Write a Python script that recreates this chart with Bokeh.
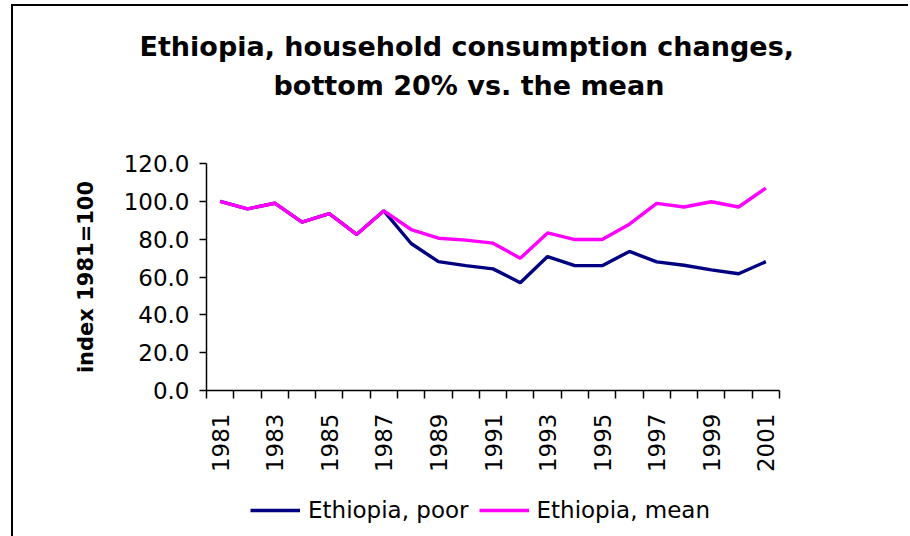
from math import pi
from bokeh.plotting import figure
from bokeh.layouts import column
from bokeh.models import (Title, Legend, LegendItem, FixedTicker, Range1d,
                          ColumnDataSource, NumeralTickFormatter)
from bokeh.embed import file_html
from bokeh.resources import INLINE

# ---- data ----
years = list(range(1981, 2002))
poor = [100.0, 96.0, 99.0, 89.0, 93.5, 82.5, 95.0, 77.7, 68.1, 66.0, 64.3,
        57.0, 70.8, 66.0, 66.0, 73.5, 68.0, 66.2, 63.8, 61.7, 68.1]
mean = [100.0, 96.0, 99.0, 89.0, 93.5, 82.5, 95.0, 85.1, 80.5, 79.5, 77.9,
        69.9, 83.3, 79.8, 79.8, 87.9, 98.9, 97.0, 99.8, 97.0, 107.0]
y_ticks = [0, 20, 40, 60, 80, 100, 120]
title_lines = ["Ethiopia, household consumption changes,",
               "bottom 20% vs. the mean"]
y_label = "index 1981=100"
series_names = ["Ethiopia, poor", "Ethiopia, mean"]
series_cols = ["poor", "mean"]
series_colors = ["#000080", "#FF00FF"]

FONT = "DejaVu Sans"

src = ColumnDataSource(dict(year=years, poor=poor, mean=mean))

p = figure(width=895, height=476, output_backend="svg", toolbar_location=None,
           x_range=Range1d(years[0] - 0.5, years[-1] + 0.5),
           y_range=Range1d(y_ticks[0], y_ticks[-1]),
           min_border_left=193, min_border_right=129,
           min_border_top=157, min_border_bottom=92,
           background_fill_color="white", border_fill_color="white")
p.outline_line_color = None
p.grid.visible = False

for col, color in zip(series_cols, series_colors):
    p.line("year", col, source=src, line_color=color, line_width=3.4)

# x axis: labels every other year, tick marks between categories
xa = p.xaxis[0]
xa.ticker = FixedTicker(ticks=years[::2],
                        minor_ticks=[y - 0.5 for y in years] + [years[-1] + 0.5])
xa.major_label_overrides = {y: str(y) for y in years}
xa.major_tick_out = 0
xa.major_tick_in = 0
xa.minor_tick_out = 8
xa.minor_tick_in = 0
xa.minor_tick_line_color = "black"
xa.minor_tick_line_width = 1.5
xa.major_label_orientation = pi / 2
xa.major_label_standoff = 15
xa.major_label_text_font = FONT
xa.major_label_text_font_size = "23px"
xa.major_label_text_color = "black"
xa.axis_line_color = "black"
xa.axis_line_width = 1.5

ya = p.yaxis[0]
ya.ticker = FixedTicker(ticks=y_ticks, minor_ticks=[])
ya.formatter = NumeralTickFormatter(format="0.0")
ya.major_tick_out = 7
ya.major_tick_in = 0
ya.major_tick_line_color = "black"
ya.major_tick_line_width = 1.5
ya.major_label_standoff = 10
ya.major_label_text_font = FONT
ya.major_label_text_font_size = "23px"
ya.major_label_text_color = "black"
ya.axis_line_color = "black"
ya.axis_line_width = 1.5
ya.axis_label = y_label
ya.axis_label_text_font = FONT
ya.axis_label_text_font_size = "21px"
ya.axis_label_text_font_style = "bold"
ya.axis_label_text_color = "black"
ya.axis_label_standoff = 23

# title: spacer nearest the plot, then the two lines (left-aligned with offsets
# so that each line is centred like the original)
has_standoff = "standoff" in Title.properties()

def add_title(text, size, offset, standoff, bold=True):
    kw = dict(text=text, align="left", offset=offset,
              text_font=FONT, text_font_size=size,
              text_font_style="bold" if bold else "normal", text_color="black")
    if has_standoff:
        kw["standoff"] = standoff
    p.add_layout(Title(**kw), "above")

add_title(" ", "44px", 0, 10, bold=False)
add_title(title_lines[1], "27px", 67, 0)
add_title(title_lines[0], "27px", -67, 11)

# legend row underneath: its own small figure; the series lines drawn there
# fall outside its ranges, so only the legend samples are visible
lf = figure(width=895, height=54, output_backend="svg", toolbar_location=None,
            x_range=Range1d(0, 1), y_range=Range1d(0, 1),
            min_border=0, background_fill_color="white",
            border_fill_color="white")
lf.axis.visible = False
lf.grid.visible = False
lf.outline_line_color = None
items = []
for name, col, color in zip(series_names, series_cols, series_colors):
    r = lf.line("year", col, source=src, line_color=color, line_width=3.4)
    items.append(LegendItem(label=name, renderers=[r]))
legend = Legend(items=items, orientation="horizontal", location=(44, 13),
                label_text_font=FONT, label_text_font_size="23px",
                label_text_color="black",
                glyph_width=50, label_standoff=8, spacing=10,
                padding=4, margin=0,
                border_line_color=None, background_fill_alpha=0)
lf.add_layout(legend)

layout = column(p, lf, spacing=0,
                styles={"border-left": "2px solid black",
                        "border-top": "2px solid black",
                        "margin-left": "11px", "margin-top": "4px"})

open("out.html", "w").write(file_html(layout, INLINE))
